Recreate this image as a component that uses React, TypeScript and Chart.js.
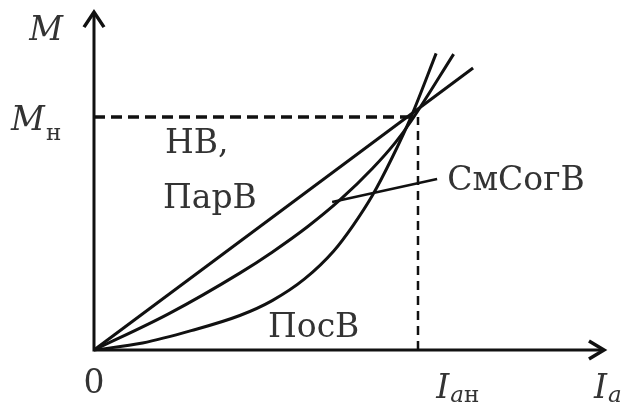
import React, { useEffect, useRef } from "react";
import { Chart, registerables } from "chart.js";
Chart.register(...registerables);

// НВ, ПарВ (straight line)
const nvX = [0, 1.17];
const nvY = [0, 1.21];
// СмСогВ
const smX = [0, 0.23, 0.45, 0.55, 0.66, 0.76, 0.86, 0.93, 0.98, 1.11];
const smY = [0, 0.155, 0.33, 0.42, 0.53, 0.645, 0.78, 0.89, 0.985, 1.27];
// ПосВ
const posX = [0, 0.15, 0.3, 0.45, 0.55, 0.65, 0.74, 0.8, 0.86, 0.92, 0.98, 1.056];
const posY = [0, 0.03, 0.083, 0.148, 0.212, 0.305, 0.425, 0.535, 0.665, 0.825, 1.005, 1.273];
// rated point guides (I_ан = 1, M_н = 1)
const hGuideX = [0, 0.975];
const hGuideY = [1, 1];
const vGuideX = [1, 1];
const vGuideY = [0, 1];
// leader line to the СмСогВ label
const leaderX = [0.735, 1.059];
const leaderY = [0.635, 0.734];

const pts = (xs: number[], ys: number[]) => xs.map((x, i) => ({ x, y: ys[i] }));

const INK = "#111111";
const TEXT = "#333333";
const SERIF = '"DejaVu Serif", "Liberation Serif", serif';

const overlay = {
  id: "overlay",
  afterDatasetsDraw(chart: any) {
    const ctx = chart.ctx as CanvasRenderingContext2D;
    const xs = chart.scales.x;
    const ys = chart.scales.y;
    const px = (v: number) => xs.getPixelForValue(v);
    const py = (v: number) => ys.getPixelForValue(v);
    const ox = px(0);
    const oy = py(0);
    const xTip = px(1.574);
    const yTip = py(1.45);
    ctx.save();
    ctx.strokeStyle = INK;
    ctx.lineWidth = 3;
    ctx.lineJoin = "miter";
    ctx.lineCap = "butt";
    // axes
    ctx.beginPath();
    ctx.moveTo(ox, oy);
    ctx.lineTo(xTip - 1, oy);
    ctx.moveTo(ox, oy + 1.5);
    ctx.lineTo(ox, yTip + 1);
    ctx.stroke();
    // arrow heads
    ctx.lineWidth = 3.5;
    ctx.beginPath();
    ctx.moveTo(xTip - 15, oy - 9);
    ctx.lineTo(xTip, oy);
    ctx.lineTo(xTip - 15, oy + 9);
    ctx.moveTo(ox - 10, yTip + 15);
    ctx.lineTo(ox, yTip);
    ctx.lineTo(ox + 10, yTip + 15);
    ctx.stroke();

    // labels
    ctx.fillStyle = TEXT;
    ctx.textBaseline = "alphabetic";
    const big = 33;
    const sub = 23;
    // M (axis)
    ctx.font = `italic ${big}px ${SERIF}`;
    ctx.textAlign = "center";
    ctx.fillText("M", px(-0.148), py(1.33));
    // M_н
    ctx.textAlign = "right";
    ctx.fillText("M", px(-0.152), py(0.944));
    ctx.textAlign = "left";
    ctx.font = `${sub}px ${SERIF}`;
    ctx.fillText("н", px(-0.148), py(0.9));
    // 0
    ctx.font = `${big}px ${SERIF}`;
    ctx.textAlign = "center";
    ctx.fillText("0", px(0.0), py(-0.185));
    // I_ан
    ctx.textAlign = "left";
    ctx.font = `italic ${big}px ${SERIF}`;
    ctx.fillText("I", px(1.056), py(-0.206));
    const iw = ctx.measureText("I").width;
    ctx.font = `italic ${sub}px ${SERIF}`;
    ctx.fillText("a", px(1.056) + iw + 1, py(-0.225));
    const aw = ctx.measureText("a").width;
    ctx.font = `${sub}px ${SERIF}`;
    ctx.fillText("н", px(1.056) + iw + 1 + aw, py(-0.225));
    // I_a
    ctx.font = `italic ${big}px ${SERIF}`;
    ctx.fillText("I", px(1.543), py(-0.206));
    const iw2 = ctx.measureText("I").width;
    ctx.font = `italic ${sub}px ${SERIF}`;
    ctx.fillText("a", px(1.543) + iw2 + 1, py(-0.225));
    // curve names
    ctx.font = `${big}px ${SERIF}`;
    ctx.fillText("НВ,", px(0.219), py(0.845));
    ctx.fillText("ПарВ", px(0.213), py(0.609));
    ctx.fillText("СмСогВ", px(1.09), py(0.687));
    ctx.fillText("ПосВ", px(0.537), py(0.056));
    ctx.restore();
  },
};

export default function App() {
  const ref = useRef<HTMLCanvasElement | null>(null);
  useEffect(() => {
    if (!ref.current) return;
    const line = (data: any, extra: any = {}) => ({
      data,
      showLine: true,
      borderColor: INK,
      backgroundColor: INK,
      borderWidth: 3,
      pointRadius: 0,
      fill: false,
      ...extra,
    });
    const chart = new Chart(ref.current, {
      type: "scatter",
      data: {
        datasets: [
          line(pts(hGuideX, hGuideY), { borderDash: [11, 6], borderWidth: 3.5 }),
          line(pts(vGuideX, vGuideY), { borderDash: [9, 6], borderWidth: 2.5 }),
          line(pts(nvX, nvY)),
          line(pts(smX, smY), { cubicInterpolationMode: "monotone" }),
          line(pts(posX, posY), { cubicInterpolationMode: "monotone" }),
          line(pts(leaderX, leaderY), { borderWidth: 2.5 }),
        ],
      },
      options: {
        animation: false,
        responsive: false,
        maintainAspectRatio: false,
        layout: { padding: 0 },
        plugins: { legend: { display: false }, tooltip: { enabled: false } },
        scales: {
          x: { type: "linear", display: false, min: -0.2901, max: 1.6605 },
          y: { type: "linear", display: false, min: -0.2403, max: 1.5021 },
        },
      },
      plugins: [overlay],
    } as any);
    return () => chart.destroy();
  }, []);
  return (
    <div style={{ position: "absolute", left: 0, top: 0, width: 632, height: 406, background: "#fff" }}>
      <canvas ref={ref} width={632} height={406} style={{ display: "block" }} />
    </div>
  );
}
